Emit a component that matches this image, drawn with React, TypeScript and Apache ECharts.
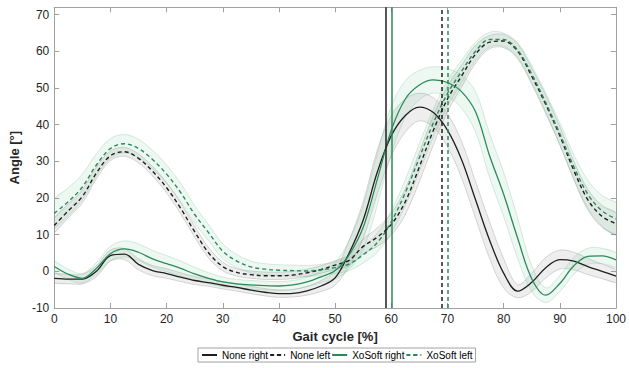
import React, { useEffect, useRef } from "react";
import * as echarts from "echarts";

// Gait cycle sample positions [%]
const gaitCycle = [0, 2.5, 5, 7.5, 10, 12.5, 15, 17.5, 20, 22.5, 25, 27.5, 30, 32.5, 35, 37.5, 40, 42.5, 45, 47.5, 50, 52.5, 55, 57.5, 60, 62.5, 65, 67.5, 70, 72.5, 75, 77.5, 80, 82.5, 85, 87.5, 90, 92.5, 95, 97.5, 100];

// None right (mean, SD)
const noneRightMean = [-1.9, -2.1, -2.1, 0.0, 4.3, 4.7, 1.9, 0.2, -0.6, -1.6, -2.5, -3.1, -3.8, -4.4, -5.1, -5.7, -6.1, -6.0, -5.3, -4.0, -1.8, 5.0, 14.0, 27.0, 37.0, 42.5, 44.8, 43.3, 38.5, 30.5, 19.5, 8.5, -0.5, -5.4, -3.0, 1.0, 3.2, 2.8, 1.3, 0.0, -1.3];
const noneRightSd = [1.3, 1.3, 1.3, 1.5, 1.5, 1.5, 1.5, 1.4, 1.3, 1.2, 1.1, 1.0, 1.0, 1.0, 1.0, 1.0, 1.0, 1.0, 1.2, 1.5, 2.0, 3.5, 5.0, 6.0, 5.5, 4.5, 3.8, 4.0, 4.5, 5.0, 5.0, 5.0, 4.0, 1.8, 2.5, 2.8, 2.6, 2.4, 2.2, 2.0, 1.8];

// None left (mean, SD)
const noneLeftMean = [12.5, 16.5, 20.4, 26.8, 31.5, 32.6, 30.8, 27.3, 22.8, 17.2, 10.8, 5.0, 1.3, -0.3, -0.9, -1.2, -1.2, -1.0, -0.4, 0.5, 1.7, 3.0, 6.8, 9.3, 12.8, 19.0, 28.5, 38.5, 47.0, 53.2, 59.2, 62.5, 62.8, 60.0, 53.2, 45.5, 37.0, 27.5, 19.5, 15.0, 13.0];
const noneLeftSd = [2.0, 1.9, 1.8, 1.6, 1.3, 1.2, 1.2, 1.3, 1.4, 1.5, 1.5, 1.4, 1.2, 1.0, 1.0, 1.0, 1.0, 1.0, 1.0, 1.0, 1.2, 1.5, 2.0, 2.5, 3.0, 3.5, 4.0, 4.0, 3.5, 3.0, 2.5, 1.8, 1.8, 2.0, 2.2, 2.5, 2.5, 2.5, 2.8, 3.0, 3.0];

// XoSoft right (mean, SD)
const xoRightMean = [1.3, -0.8, -1.9, 0.8, 4.8, 6.1, 5.2, 3.4, 2.1, 0.8, -0.7, -1.9, -2.9, -3.4, -3.7, -3.9, -4.0, -3.7, -2.9, -1.5, 0.2, 4.5, 12.0, 25.0, 38.5, 47.0, 50.8, 52.2, 51.5, 49.0, 43.5, 31.5, 21.0, 9.0, -2.0, -6.5, -3.3, 1.5, 4.1, 4.2, 3.1];
const xoRightSd = [1.5, 1.4, 1.3, 1.6, 2.0, 2.2, 2.3, 2.3, 2.2, 2.0, 1.8, 1.5, 1.3, 1.2, 1.2, 1.2, 1.2, 1.2, 1.3, 1.6, 2.2, 4.0, 6.0, 7.0, 6.5, 5.0, 4.0, 3.6, 3.8, 4.5, 5.5, 6.0, 6.0, 5.5, 3.5, 2.0, 2.2, 2.3, 2.2, 2.1, 2.0];

// XoSoft left (mean, SD)
const xoLeftMean = [15.8, 19.0, 23.0, 29.0, 33.5, 34.8, 33.5, 30.5, 26.5, 21.5, 15.5, 10.5, 5.5, 2.8, 1.2, 0.6, 0.3, 0.2, 0.1, 0.4, 1.0, 2.0, 4.5, 7.8, 13.5, 21.5, 31.0, 40.5, 48.5, 54.5, 60.0, 63.2, 63.2, 60.3, 53.8, 46.0, 37.5, 28.5, 21.0, 16.5, 14.3];
const xoLeftSd = [4.0, 3.8, 3.5, 3.0, 2.7, 2.5, 2.5, 2.5, 2.5, 2.5, 2.4, 2.2, 2.0, 1.8, 1.6, 1.5, 1.5, 1.5, 1.5, 1.5, 1.6, 1.8, 2.2, 2.6, 3.0, 3.5, 3.8, 3.8, 3.5, 3.0, 2.5, 2.0, 1.8, 2.0, 2.3, 2.6, 3.0, 3.3, 3.8, 4.2, 4.5];

// Legend names and toe-off markers [%]
const seriesNames = ["None right", "None left", "XoSoft right", "XoSoft left"];
const toeOff = [59, 69, 60, 70];

const FONT = "'Liberation Sans', Arial, Helvetica, sans-serif";
const BLACK = "#1f1f1f";
const GREEN = "#2b8a57";

export default function App() {
  const ref = useRef<HTMLDivElement>(null);

  useEffect(() => {
    if (!ref.current) return;
    const chart = echarts.init(ref.current, null, { renderer: "svg" });

    const groups = [
      { mean: noneRightMean, sd: noneRightSd, color: BLACK, dashed: false, gray: true },
      { mean: noneLeftMean, sd: noneLeftSd, color: BLACK, dashed: true, gray: true },
      { mean: xoRightMean, sd: xoRightSd, color: GREEN, dashed: false, gray: false },
      { mean: xoLeftMean, sd: xoLeftSd, color: GREEN, dashed: true, gray: false },
    ];

    const SMOOTH = 0.35;
    const series: any[] = [];
    groups.forEach((g) => {
      const fill = g.gray ? "rgba(140,140,140,0.15)" : "rgba(90,185,135,0.10)";
      const edge = g.gray ? "rgba(120,120,120,0.35)" : "rgba(90,175,125,0.30)";
      series.push({
        type: "custom",
        silent: true,
        clip: true,
        z: 1,
        data: [[0, 0]],
        encode: { x: 0, y: 1 },
        renderItem: (params: any, api: any) => {
          const upper = gaitCycle.map((x, i) => api.coord([x, g.mean[i] + g.sd[i]]));
          const lower = gaitCycle.map((x, i) => api.coord([x, g.mean[i] - g.sd[i]]));
          return {
            type: "group",
            children: [
              {
                type: "polygon",
                shape: { points: upper.concat(lower.slice().reverse()), smooth: SMOOTH },
                style: { fill, stroke: "none" },
              },
              {
                type: "polyline",
                shape: { points: upper, smooth: SMOOTH },
                style: { fill: "none", stroke: edge, lineWidth: 0.8 },
              },
              {
                type: "polyline",
                shape: { points: lower, smooth: SMOOTH },
                style: { fill: "none", stroke: edge, lineWidth: 0.8 },
              },
            ],
          };
        },
      });
    });
    groups.forEach((g, gi) => {
      series.push({
        type: "line",
        name: seriesNames[gi],
        data: g.mean.map((m, i) => [gaitCycle[i], m]),
        symbol: "none",
        smooth: SMOOTH,
        z: 3,
        lineStyle: {
          color: g.color,
          width: g.dashed ? 1.4 : 1.3,
          type: g.dashed ? [4, 3] : "solid",
        },
        itemStyle: { color: g.color },
        markLine: {
          silent: true,
          symbol: ["none", "none"],
          label: { show: false },
          lineStyle: {
            color: g.color,
            width: 1.5,
            type: g.dashed ? [4, 3] : "solid",
          },
          data: [{ xAxis: toeOff[gi] }],
        },
      });
    });

    const axisLine = { show: true, onZero: false, lineStyle: { color: "#a0a0a0", width: 1 } };
    const axisTick = { show: true, inside: true, length: 5, lineStyle: { color: "#a0a0a0" } };
    const labelStyle = { color: "#262626", fontSize: 12, fontFamily: FONT };

    chart.setOption({
      animation: false,
      backgroundColor: "#ffffff",
      grid: { left: 45.3, right: 7.3, top: 7.3, bottom: 60, containLabel: false },
      legend: {
        data: seriesNames,
        left: 198,
        top: 348,
        orient: "horizontal",
        itemWidth: 15,
        itemHeight: 2,
        itemGap: 1,
        padding: [2, 3],
        borderColor: "#8c8c8c",
        borderWidth: 0.8,
        backgroundColor: "#ffffff",
        selectedMode: false,
        textStyle: { fontSize: 10, color: "#000", fontFamily: FONT },
      },
      xAxis: [
        {
          type: "value",
          min: 0,
          max: 100,
          interval: 10,
          position: "bottom",
          axisLine,
          axisTick,
          splitLine: { show: false },
          axisLabel: { ...labelStyle, margin: 5 },
          name: "Gait cycle [%]",
          nameLocation: "middle",
          nameGap: 21,
          nameTextStyle: { fontWeight: "bold", fontSize: 13, color: "#262626", fontFamily: FONT },
        },
        {
          type: "value",
          min: 0,
          max: 100,
          interval: 10,
          position: "top",
          axisLine,
          axisTick,
          splitLine: { show: false },
          axisLabel: { show: false },
        },
      ],
      yAxis: [
        {
          type: "value",
          min: -10,
          max: 72,
          interval: 10,
          position: "left",
          axisLine,
          axisTick,
          splitLine: { show: false },
          axisLabel: {
            ...labelStyle,
            margin: 5,
            formatter: (v: number) => (Math.abs(v % 10) < 1e-9 ? String(v) : ""),
          },
          name: "Angle [°]",
          nameLocation: "middle",
          nameGap: 23,
          nameTextStyle: { fontWeight: "bold", fontSize: 13, color: "#262626", fontFamily: FONT },
        },
        {
          type: "value",
          min: -10,
          max: 72,
          interval: 10,
          position: "right",
          axisLine,
          axisTick,
          splitLine: { show: false },
          axisLabel: { show: false },
        },
      ],
      series,
    });

    return () => {
      chart.dispose();
    };
  }, []);

  return (
    <div
      ref={ref}
      style={{ position: "fixed", left: 0, top: 0, width: 629, height: 368, background: "#fff" }}
    />
  );
}
